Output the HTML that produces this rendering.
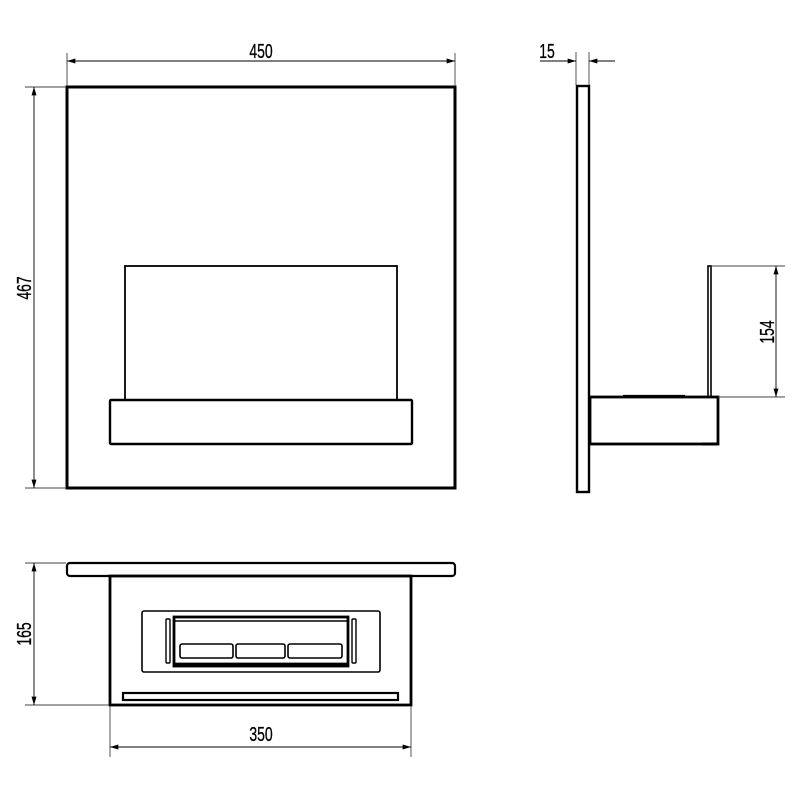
<!DOCTYPE html>
<html><head><meta charset="utf-8"><style>body{margin:0;background:#fff}svg{display:block}</style></head>
<body>
<svg width="800" height="800" viewBox="0 0 800 800" xmlns="http://www.w3.org/2000/svg">
<defs>
<marker id="a" viewBox="0 0 10 6" refX="10" refY="3" markerWidth="12" markerHeight="5" orient="auto-start-reverse" markerUnits="userSpaceOnUse"><path d="M0,0 L10,3 L0,6 z" fill="#000"/></marker>
</defs>
<g fill="none" stroke="#000">
<rect x="67" y="87" width="388" height="401" stroke-width="3"/>
<rect x="125" y="266" width="272" height="134" stroke-width="1.8"/>
<rect x="110" y="400" width="302" height="44" rx="1" stroke-width="2.4"/>
<g stroke-width="0.9" stroke="#444">
<line x1="67" y1="53" x2="67" y2="86"/><line x1="455" y1="53" x2="455" y2="86"/>
<line x1="67" y1="61" x2="455" y2="61" marker-start="url(#a)" marker-end="url(#a)" stroke="#000"/>
<line x1="25" y1="87" x2="66" y2="87"/><line x1="25" y1="488" x2="66" y2="488"/>
<line x1="34" y1="87" x2="34" y2="488" marker-start="url(#a)" marker-end="url(#a)" stroke="#000"/>
</g>
<rect x="577" y="86" width="12" height="406" stroke-width="2.4"/>
<rect x="590" y="397" width="128" height="47" stroke-width="2.8"/>
<rect x="708" y="266" width="3" height="131" stroke-width="1.6"/>
<line x1="623" y1="396" x2="685" y2="396" stroke-width="2.2"/>
<line x1="702" y1="444" x2="717" y2="444" stroke-width="3"/>
<g stroke-width="0.9" stroke="#444">
<line x1="576" y1="52" x2="576" y2="85"/><line x1="589" y1="52" x2="589" y2="85"/>
<line x1="540" y1="61" x2="576" y2="61" marker-end="url(#a)" stroke="#000"/>
<line x1="615" y1="61" x2="589" y2="61" marker-end="url(#a)" stroke="#000"/>
<line x1="712" y1="266" x2="785" y2="266"/><line x1="718" y1="397" x2="785" y2="397"/>
<line x1="776" y1="266" x2="776" y2="397" marker-start="url(#a)" marker-end="url(#a)" stroke="#000"/>
</g>
<rect x="67" y="563" width="388" height="13" rx="3" stroke-width="2.2"/>
<rect x="110" y="576" width="301" height="129" stroke-width="2.8"/>
<rect x="142" y="611" width="238" height="61" rx="2" stroke-width="1.6"/>
<rect x="174" y="617" width="174" height="49" stroke-width="2.8"/>
<line x1="175" y1="621" x2="347" y2="621" stroke-width="1.6"/>
<line x1="175" y1="664" x2="347" y2="664" stroke-width="2.8"/>
<rect x="180" y="644" width="53" height="14" rx="2" stroke-width="1.6"/>
<rect x="236" y="644" width="49" height="14" rx="2" stroke-width="1.6"/>
<rect x="288" y="644" width="54" height="14" rx="2" stroke-width="1.6"/>
<rect x="166" y="619" width="4" height="44" rx="1" stroke-width="1.4"/>
<rect x="352" y="619" width="4" height="44" rx="1" stroke-width="1.4"/>
<rect x="123" y="693" width="275" height="7" stroke-width="2.2"/>
<g stroke-width="0.9" stroke="#444">
<line x1="25" y1="563" x2="66" y2="563"/><line x1="25" y1="705" x2="109" y2="705"/>
<line x1="34" y1="563" x2="34" y2="705" marker-start="url(#a)" marker-end="url(#a)" stroke="#000"/>
<line x1="110" y1="706" x2="110" y2="757"/><line x1="411" y1="706" x2="411" y2="757"/>
<line x1="110" y1="747" x2="411" y2="747" marker-start="url(#a)" marker-end="url(#a)" stroke="#000"/>
</g>
</g>
<g font-family="Liberation Sans, sans-serif" font-size="20" fill="#000" text-anchor="middle" stroke="#000" stroke-width="0.3">
<text transform="translate(261,58) scale(0.7,1)">450</text>
<text transform="translate(547,58) scale(0.7,1)">15</text>
<text transform="translate(24,288) rotate(-90) scale(0.7,1)" dy="7">467</text>
<text transform="translate(767,332) rotate(-90) scale(0.7,1)" dy="7">154</text>
<text transform="translate(24,634) rotate(-90) scale(0.7,1)" dy="7">165</text>
<text transform="translate(261,741) scale(0.7,1)">350</text>
</g>
</svg>
</body></html>
